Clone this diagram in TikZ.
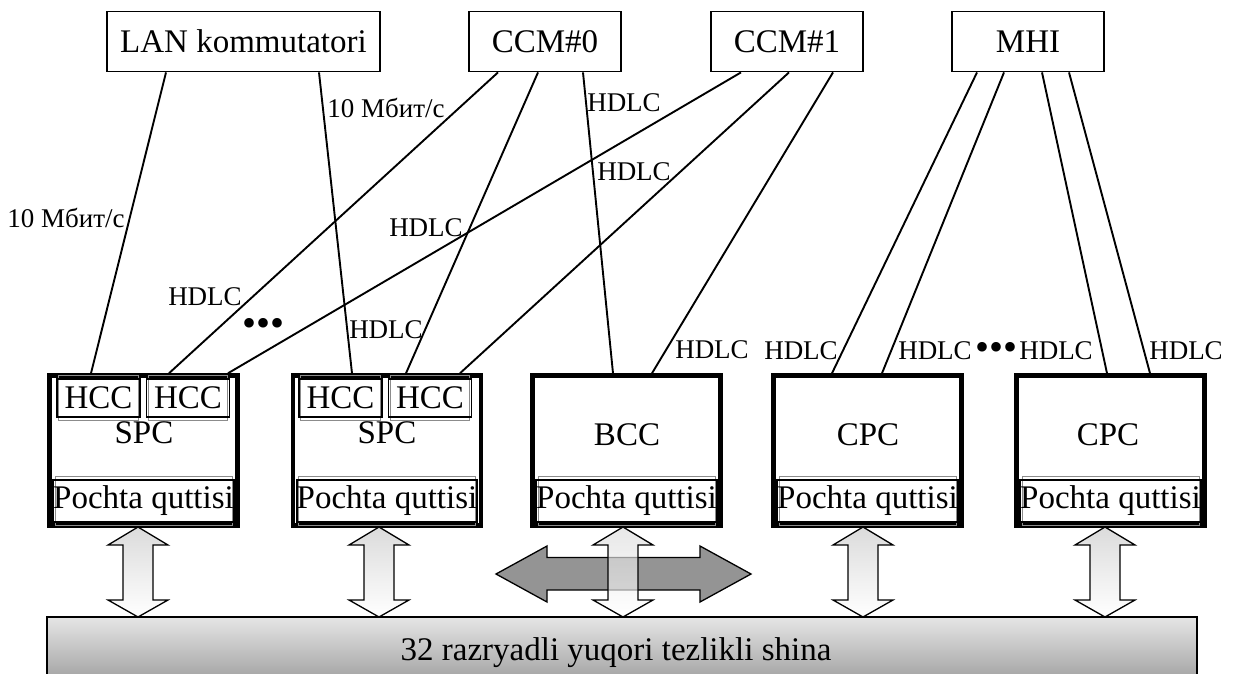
\documentclass[tikz,border=0pt]{standalone}
\usepackage{fontspec}
\setmainfont{Liberation Serif}
\newcommand\boxfnt{\fontsize{33}{38}\selectfont}
\newcommand\lblfnt{\fontsize{27}{30}\selectfont}
\newcommand\dotfnt{\fontsize{40}{40}\selectfont}
\begin{document}
\begin{tikzpicture}[x=1pt,y=-1pt,
  topbox/.style={draw, line width=1.8pt, minimum height=60pt, inner sep=0pt, font=\boxfnt},
  lowbox/.style={draw, line width=4.5pt, minimum width=188pt, minimum height=150pt, inner sep=0pt},
  subbox/.style={draw, line width=1.6pt, inner sep=0pt, font=\boxfnt,
    append after command={\pgfextra{\draw[black!45, line width=0.9pt]
      ([shift={(2.6pt,-2.6pt)}]\tikzlastnode.south west) rectangle ([shift={(-2.6pt,2.6pt)}]\tikzlastnode.north east);}}},
  link/.style={line width=1.9pt},
  lbl/.style={inner sep=0pt, font=\lblfnt},
  boxcap/.style={inner sep=0pt, font=\boxfnt},
  varrow/.style={draw, line width=1.3pt, line join=miter, top color=black!14, bottom color=white},
  harrow/.style={draw, line width=1.3pt, line join=miter, fill=black!42},
  busbar/.style={draw, line width=1.8pt, top color=black!10, bottom color=black!40, minimum width=1150pt, minimum height=72pt, inner sep=0pt}]
\useasboundingbox (0,0) rectangle (1237,673);

% bus
\node[busbar] (bus) at (622,653) {};
\node[boxcap] (bustext) at (616,653) {32 razryadli yuqori tezlikli shina};

% top boxes
\node[topbox, minimum width=273pt] (lan) at (243.5,41.5) {LAN kommutatori};
\node[topbox, minimum width=152pt] (ccm0) at (545,41.5) {CCM\#0};
\node[topbox, minimum width=152pt] (ccm1) at (787,41.5) {CCM\#1};
\node[topbox, minimum width=152pt] (mhi) at (1028,41.5) {MHI};

% lower boxes
\node[lowbox] (spc1) at (143.5,450.5) {};
\node[lowbox] (spc2) at (387,450.5) {};
\node[lowbox] (bcc) at (626.5,450.5) {};
\node[lowbox] (cpc1) at (867.5,450.5) {};
\node[lowbox] (cpc2) at (1110.5,450.5) {};

% HCC sub boxes
\node[subbox, minimum width=83pt, minimum height=38pt] (hcc1a) at (98.5,398) {HCC};
\node[subbox, minimum width=83pt, minimum height=38pt] (hcc1b) at (188,398) {HCC};
\node[subbox, minimum width=83pt, minimum height=38pt] (hcc2a) at (340.5,398) {HCC};
\node[subbox, minimum width=83pt, minimum height=38pt] (hcc2b) at (430,398) {HCC};

% box captions
\node[boxcap] (tspc1) at (144,433) {SPC};
\node[boxcap] (tspc2) at (387,433) {SPC};
\node[boxcap] (tbcc) at (627,435) {BCC};
\node[boxcap] (tcpc1) at (868,435) {CPC};
\node[boxcap] (tcpc2) at (1108,435) {CPC};

% mailboxes
\node[subbox, minimum width=180pt, minimum height=42pt] (pq1) at (143.5,501) {Pochta quttisi};
\node[subbox, minimum width=180pt, minimum height=42pt] (pq2) at (387,501) {Pochta quttisi};
\node[subbox, minimum width=180pt, minimum height=42pt] (pq3) at (626.5,501) {Pochta quttisi};
\node[subbox, minimum width=180pt, minimum height=42pt] (pq4) at (867.5,501) {Pochta quttisi};
\node[subbox, minimum width=180pt, minimum height=42pt] (pq5) at (1110.5,501) {Pochta quttisi};

% links
\draw[link] ([xshift=-77.5pt]lan.south) -- ([xshift=-52.5pt]spc1.north);
\draw[link] ([xshift=75.5pt]lan.south) -- ([xshift=-35pt]spc2.north);
\draw[link] ([xshift=-47pt]ccm0.south) -- ([xshift=25.5pt]spc1.north);
\draw[link] ([xshift=-7pt]ccm0.south) -- ([xshift=19pt]spc2.north);
\draw[link] ([xshift=38pt]ccm0.south) -- ([xshift=-13.5pt]bcc.north);
\draw[link] ([xshift=-46pt]ccm1.south) -- ([xshift=84.5pt]spc1.north);
\draw[link] ([xshift=2pt]ccm1.south) -- ([xshift=73pt]spc2.north);
\draw[link] ([xshift=46pt]ccm1.south) -- ([xshift=25.5pt]bcc.north);
\draw[link] ([xshift=-51pt]mhi.south) -- ([xshift=-35.5pt]cpc1.north);
\draw[link] ([xshift=-24pt]mhi.south) -- ([xshift=14.5pt]cpc1.north);
\draw[link] ([xshift=14pt]mhi.south) -- ([xshift=-3.5pt]cpc2.north);
\draw[link] ([xshift=41pt]mhi.south) -- ([xshift=39.5pt]cpc2.north);

% link labels
\node[lbl] (l10a) at (66,218) {10 Мбит/с};
\node[lbl] (l10b) at (386,108) {10 Мбит/с};
\node[lbl] (h1) at (624,103) {HDLC};
\node[lbl] (h2) at (634,172) {HDLC};
\node[lbl] (h3) at (426,228) {HDLC};
\node[lbl] (h4) at (205,297) {HDLC};
\node[lbl] (h5) at (386,330) {HDLC};
\node[lbl] (h6) at (712,350) {HDLC};
\node[lbl] (h7) at (801,351) {HDLC};
\node[lbl] (h8) at (935,351) {HDLC};
\node[lbl] (h9) at (1056,351) {HDLC};
\node[lbl] (h10) at (1186,351) {HDLC};
\node[inner sep=0pt, font=\dotfnt] (dots1) at (264,327) {•••};
\node[inner sep=0pt, font=\dotfnt] (dots2) at (996,351) {•••};

% bus arrows
\newcommand\busarrow[1]{%
  \draw[varrow] (#1,527) -- ({#1+30},545) -- ({#1+15},545) -- ({#1+15},600) -- ({#1+30},600)
    -- (#1,617) -- ({#1-30},600) -- ({#1-15},600) -- ({#1-15},545) -- ({#1-30},545) -- cycle;}
\busarrow{138}
\busarrow{379}
\busarrow{863}
\busarrow{1105}
\draw[harrow] (496,574) -- (547,546) -- (547,557.5) -- (700,557.5) -- (700,546) -- (751,574)
  -- (700,602) -- (700,590) -- (547,590) -- (547,602) -- cycle;
\begin{scope}[fill opacity=0.65]
\busarrow{623}
\end{scope}
\end{tikzpicture}
\end{document}
